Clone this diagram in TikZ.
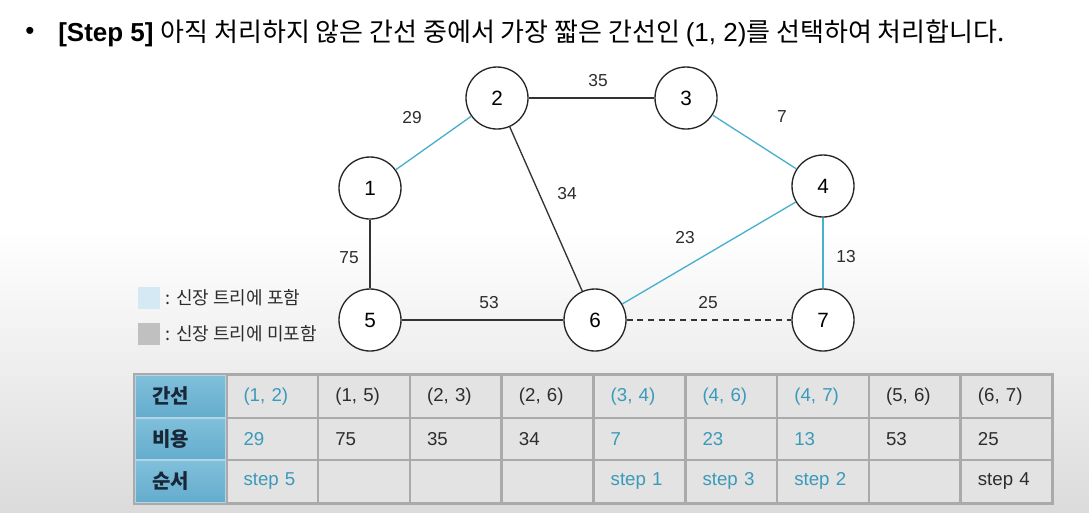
\documentclass[tikz,border=0pt]{standalone}
\usepackage{fontspec}
\setmainfont{Liberation Sans}
\newfontfamily\kr{Noto Sans CJK KR}
\definecolor{treeblue}{RGB}{72,176,204}
\definecolor{bluetext}{RGB}{58,154,186}
\definecolor{darktext}{RGB}{45,45,45}
\definecolor{cellfill}{RGB}{227,227,227}
\definecolor{cellline}{RGB}{170,170,170}
\definecolor{hdtop}{RGB}{128,192,219}
\definecolor{hdbottom}{RGB}{100,172,205}
\definecolor{hdline}{RGB}{178,212,228}
\definecolor{hdtext}{RGB}{24,40,56}
\definecolor{legblue}{RGB}{212,233,244}
\definecolor{leggray}{RGB}{192,192,192}
\tikzset{
  vertex/.style={circle,draw=black!85,fill=white,line width=1pt,minimum size=46.5pt,
    inner sep=0pt,font=\fontsize{15.5}{18}\selectfont},
  weight/.style={font=\fontsize{13}{15}\selectfont,text=darktext,inner sep=0pt},
  tree/.style={draw=treeblue,line width=1pt},
  nontree/.style={draw=black!80,line width=1pt},
  cell/.style={draw=cellline,fill=cellfill,line width=1.5pt,anchor=north west,
    minimum width=68.5pt,minimum height=31.9pt,inner xsep=12.75pt,inner ysep=0pt,
    text width=43pt,align=left,font=\fontsize{14}{16}\selectfont},
  header/.style={cell,draw=hdline,top color=hdtop,bottom color=hdbottom,text=hdtext,
    font=\kr\bfseries\fontsize{15}{17}\selectfont},
  legbox/.style={minimum size=16.5pt,inner sep=0pt},
  legtext/.style={anchor=west,inner xsep=4pt,font=\kr\fontsize{13.5}{15}\selectfont,text=darktext}
}
\begin{document}
\begin{tikzpicture}[x=0.75pt,y=-0.75pt]
  % Background.
  \useasboundingbox (0,0) rectangle (1089,512);
  \fill[white] (0,0) rectangle (1089,512);
  \shade[top color=white,bottom color=black!14] (0,230) rectangle (1089,512);
  % Title.
  \node[anchor=center,font=\fontsize{19.5}{22}\selectfont] (bullet) at (30,33) {•};
  \node[anchor=west,inner sep=0pt,font=\fontsize{19.5}{22}\selectfont] (title) at (58,33)
    {{\bfseries [Step 5]} {\kr 아직 처리하지 않은 간선 중에서 가장 짧은 간선인 }(1, 2){\kr 를 선택하여 처리합니다.}};
  % Vertices.
  \node[vertex] (n1) at (370,188) {1};
  \node[vertex] (n2) at (497,98) {2};
  \node[vertex] (n3) at (686,98) {3};
  \node[vertex] (n4) at (823,186) {4};
  \node[vertex] (n5) at (370,320) {5};
  \node[vertex] (n6) at (595,320) {6};
  \node[vertex] (n7) at (823,320) {7};
  % Edges.
  \draw[tree] (n1) -- (n2);
  \draw[nontree] (n2) -- (n3);
  \draw[tree] (n3) -- (n4);
  \draw[nontree] (n2) -- (n6);
  \draw[nontree] (n1) -- (n5);
  \draw[tree] (n4) -- (n6);
  \draw[tree] (n4) -- (n7);
  \draw[nontree] (n5) -- (n6);
  \draw[nontree,dash pattern=on 4.5pt off 3.5pt] (n6) -- (n7);
  % Weights.
  \node[weight] (w12) at (412,118) {29};
  \node[weight] (w23) at (598,81) {35};
  \node[weight] (w34) at (782,117) {7};
  \node[weight] (w26) at (567,194) {34};
  \node[weight] (w46) at (685,238) {23};
  \node[weight] (w47) at (846,257) {13};
  \node[weight] (w15) at (349,258) {75};
  \node[weight] (w56) at (489,303) {53};
  \node[weight] (w67) at (708,303) {25};
  % Legend.
  \node[legbox,fill=legblue] (lb1) at (149,298) {};
  \node[legtext] (lt1) at (lb1.east) {: 신장 트리에 포함};
  \node[legbox,fill=leggray] (lb2) at (149,334) {};
  \node[legtext] (lt2) at (lb2.east) {: 신장 트리에 미포함};
  % Table.
  \node[header] (h1) at (134,374) {간선};
  \node[header] (h2) at (134,416.5) {비용};
  \node[header] (h3) at (134,459) {순서};
  \foreach \ed/\cost/\ord/\tc [count=\i from 0] in
    {{(1, 2)}/29/step 5/bluetext, {(1, 5)}/75/{}/darktext, {(2, 3)}/35/{}/darktext,
     {(2, 6)}/34/{}/darktext, {(3, 4)}/7/step 1/bluetext, {(4, 6)}/23/step 3/bluetext,
     {(4, 7)}/13/step 2/bluetext, {(5, 6)}/53/{}/darktext, {(6, 7)}/25/step 4/darktext}{
    \node[cell,text=\tc] (e\i) at ({225.5+91.8*\i},374) {\ed};
    \node[cell,text=\tc] (c\i) at ({225.5+91.8*\i},416.5) {\cost};
    \node[cell,text=\tc] (o\i) at ({225.5+91.8*\i},459) {\ord};
  }
  \draw[cellline,line width=1.5pt] (h1.north west) rectangle (o8.south east);
\end{tikzpicture}
\end{document}
